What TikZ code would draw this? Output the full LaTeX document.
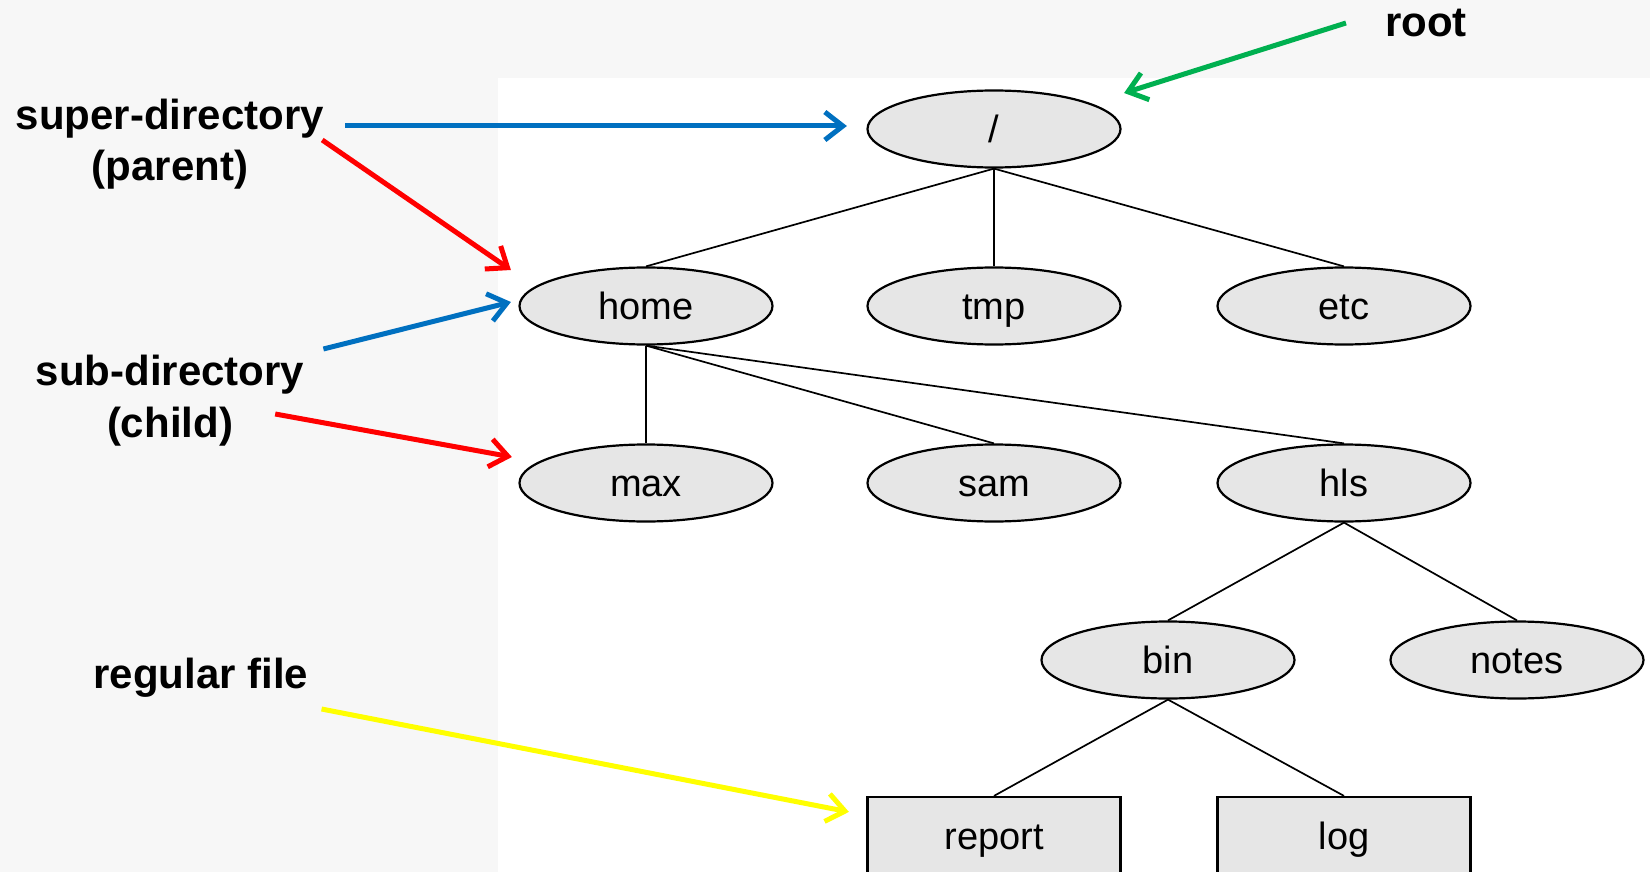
\documentclass[tikz,border=0pt]{standalone}
\usepackage{fontspec}
\setmainfont{Liberation Sans}
\usetikzlibrary{shapes.geometric,arrows.meta}
\definecolor{bg}{HTML}{F7F7F7}
\definecolor{dirfill}{HTML}{E6E6E6}
\definecolor{cblue}{HTML}{0070C0}
\definecolor{cred}{HTML}{FF0000}
\definecolor{cgreen}{HTML}{00B050}
\definecolor{cyellow}{HTML}{FFFF00}

\begin{document}
\begin{tikzpicture}[x=1pt,y=-1pt]
\tikzstyle{every node}+=[inner sep=0pt]
\tikzstyle{dir}=[ellipse,draw=black,line width=2.2pt,fill=dirfill,minimum width=253pt,minimum height=77pt,font=\fontsize{38}{46}\selectfont,text height=27pt,text depth=0pt]
\tikzstyle{file}=[rectangle,draw=black,line width=2.2pt,fill=dirfill,minimum width=253pt,minimum height=78pt,font=\fontsize{38}{46}\selectfont,text height=27pt,text depth=0pt]
\tikzstyle{lbl}=[anchor=base,font=\fontsize{42}{50}\selectfont\bfseries]
\tikzstyle{link}=[black,line width=1.7pt]
\tikzstyle{pointer}=[line width=5pt,-{Straight Barb[length=18pt,width=28pt]}]
\useasboundingbox (0,0) rectangle (1650,872);
\clip (0,0) rectangle (1650,872);
\fill [bg] (0,0) rectangle (1650,872);
\fill [white] (498,78) rectangle (1650,872);
\node [dir] (root) at (994,129) {/};
\node [dir] (home) at (646,306) {home};
\node [dir] (tmp) at (994,306) {tmp};
\node [dir] (etc) at (1344,306) {etc};
\node [dir] (max) at (646,483) {max};
\node [dir] (sam) at (994,483) {sam};
\node [dir] (hls) at (1344,483) {hls};
\node [dir] (bin) at (1168,660) {bin};
\node [dir] (notes) at (1517,660) {notes};
\node [file] (report) at (994,836) {report};
\node [file] (log) at (1344,836) {log};
\draw [link] (root.south) -- (home.north);
\draw [link] (root.south) -- (tmp.north);
\draw [link] (root.south) -- (etc.north);
\draw [link] (home.south) -- (max.north);
\draw [link] (home.south) -- (sam.north);
\draw [link] (home.south) -- (hls.north);
\draw [link] (hls.south) -- (bin.north);
\draw [link] (hls.south) -- (notes.north);
\draw [link] (bin.south) -- (report.north);
\draw [link] (bin.south) -- (log.north);
\node [lbl] (rootlbl) at (1426,37) {root};
\node [lbl] (sup) at (170,130) {super-directory};
\node [lbl] (par) at (170,180) {(parent)};
\node [lbl] (sub) at (170,385) {sub-directory};
\node [lbl] (chl) at (170,437) {(child)};
\node [lbl] (reg) at (201,688) {regular file};
\draw [pointer,cgreen] ([shift={(-39,-14)}]rootlbl.base west) -- ([shift={(2.5,-36)}]root.east);
\draw [pointer,cblue] ([shift={(21,-4)}]sup.base east) -- ([shift={(-19.5,-3)}]root.west);
\draw [pointer,cred] ([shift={(-2,10)}]sup.base east) -- ([shift={(-7.5,-36)}]home.west);
\draw [pointer,cblue] ([shift={(19,-36)}]sub.base east) -- ([shift={(-7.5,-4)}]home.west);
\draw [pointer,cred] ([shift={(42,-23)}]chl.base east) -- ([shift={(-6.5,-26)}]max.west);
\draw [pointer,cyellow] ([shift={(13,21)}]reg.base east) -- ([shift={(-17.5,16)}]report.north west);
\end{tikzpicture}
\end{document}
